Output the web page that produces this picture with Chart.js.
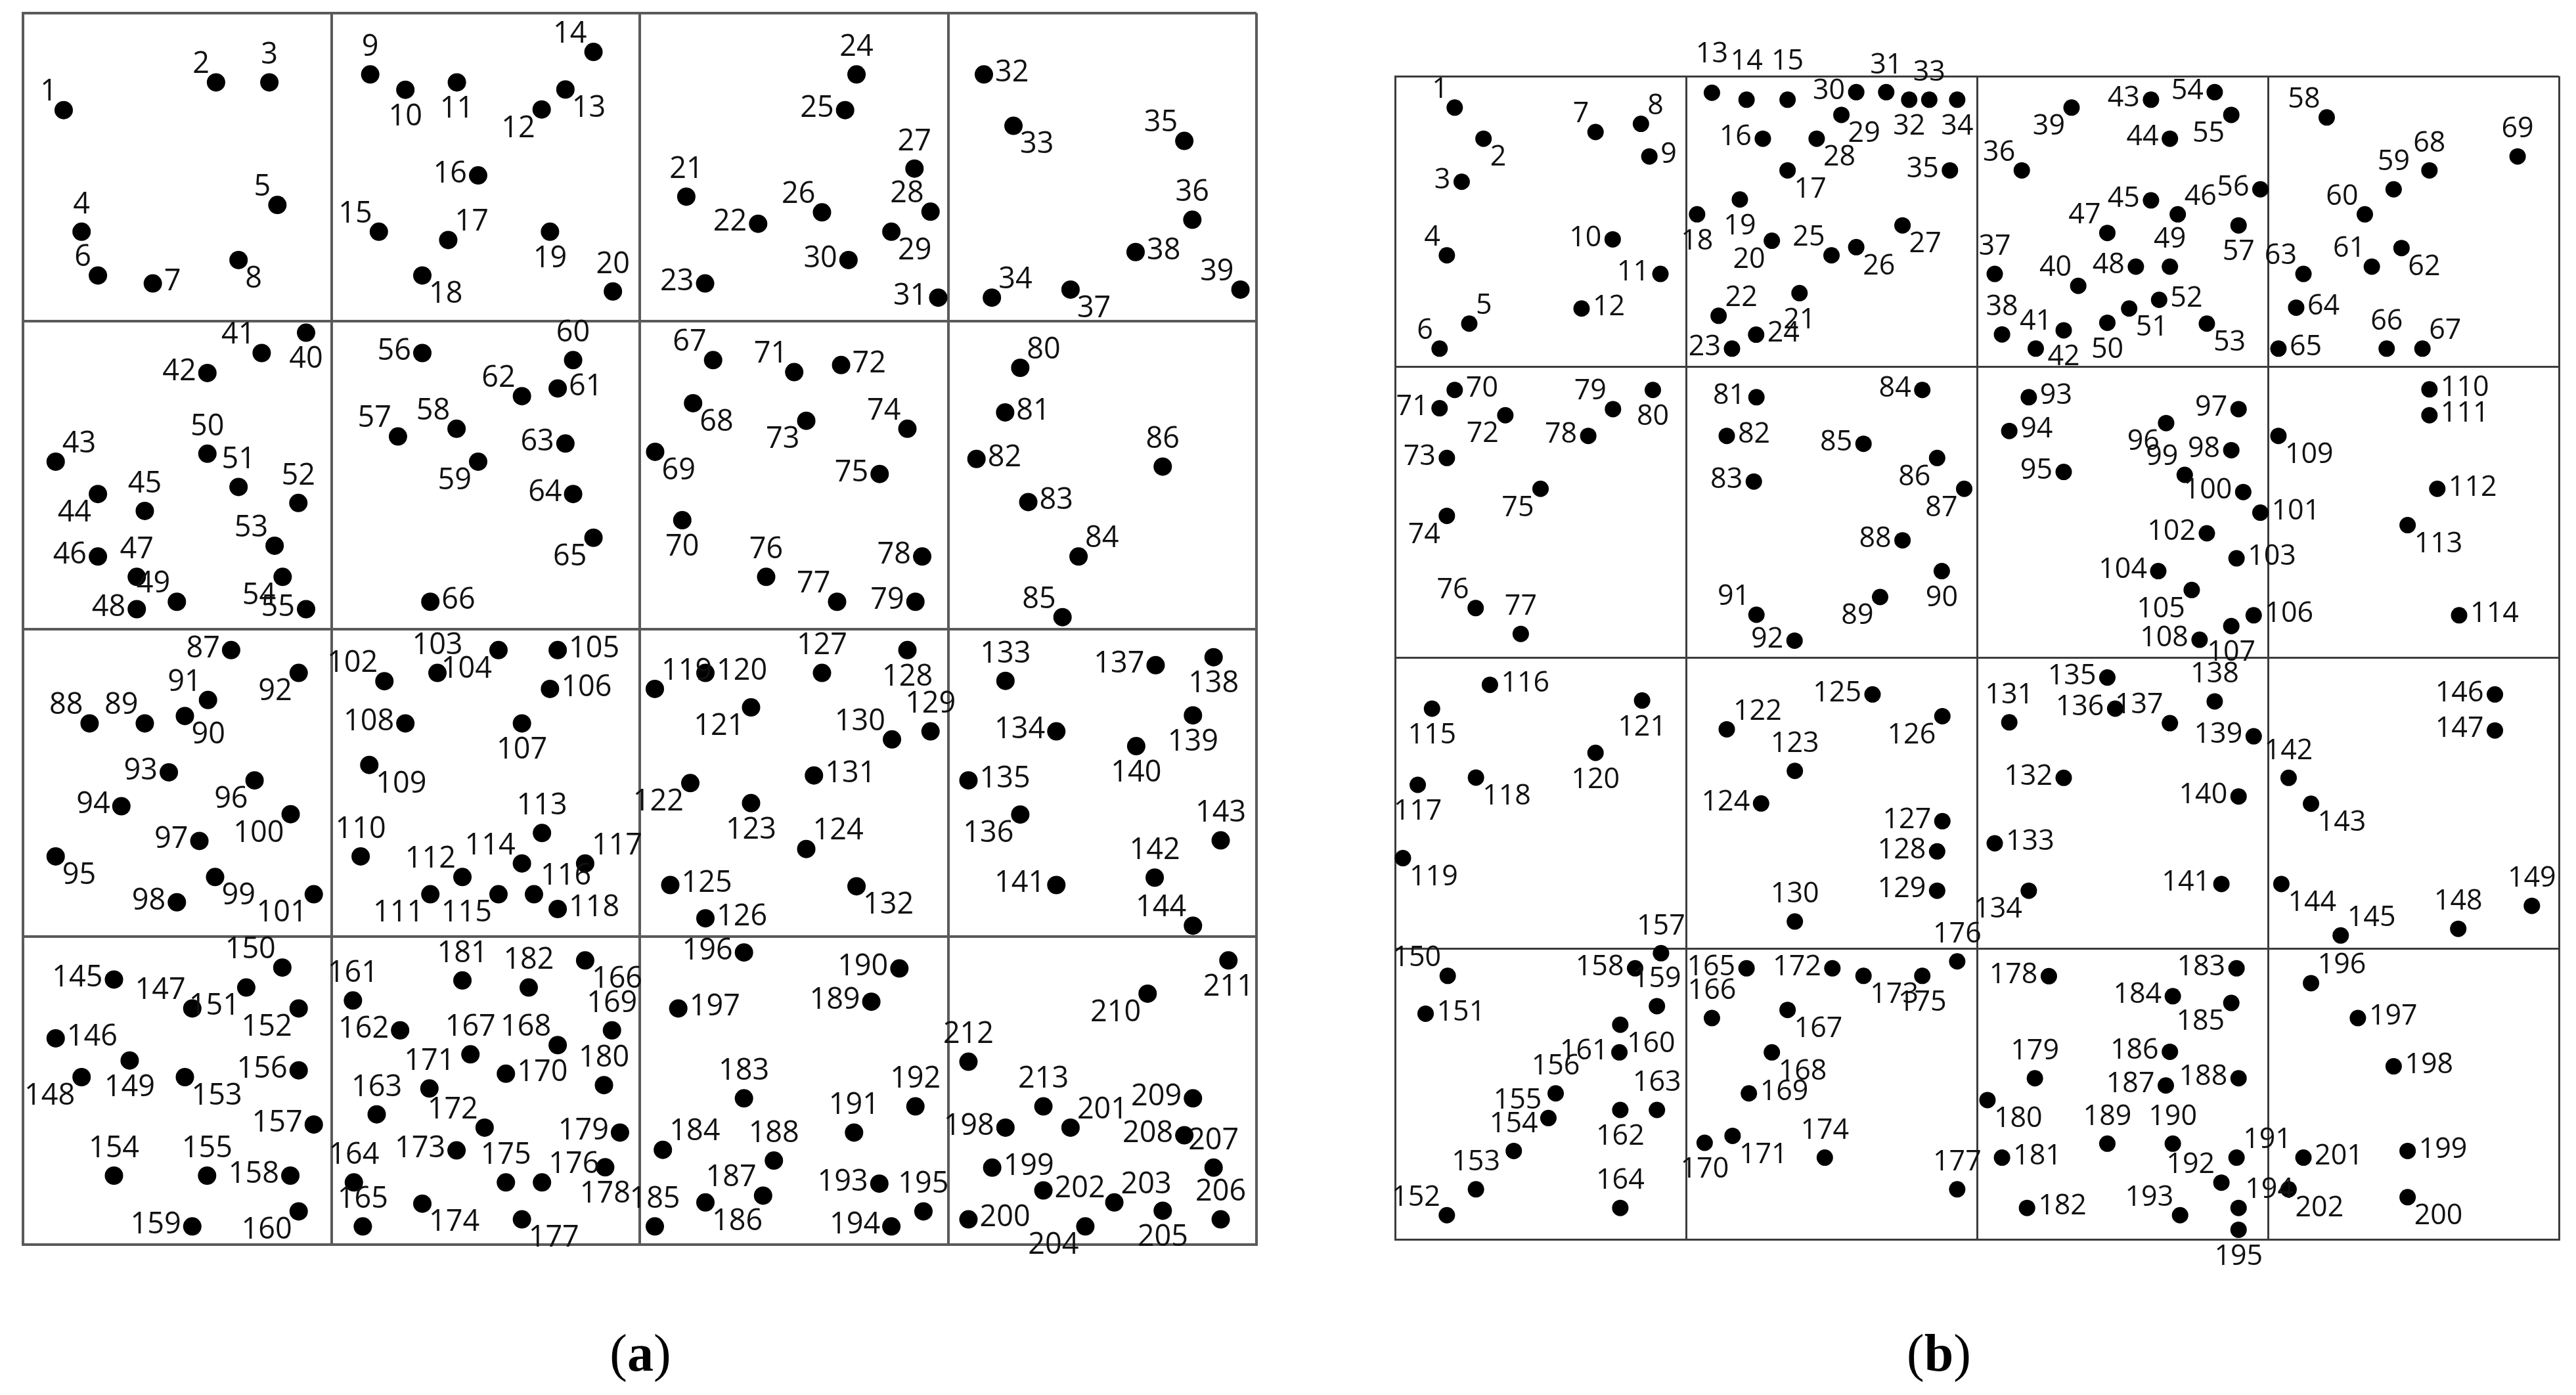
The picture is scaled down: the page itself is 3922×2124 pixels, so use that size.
<!DOCTYPE html>
<html><head><meta charset="utf-8">
<script src="https://cdn.jsdelivr.net/npm/chart.js@4"></script>
<style>
html,body{margin:0;padding:0;background:#fff;width:3922px;height:2124px;overflow:hidden;}
#ca{position:absolute;left:0;top:0;}
#cb{position:absolute;left:2060px;top:0;}
.cap{position:absolute;top:2018px;width:300px;text-align:center;font-family:"Liberation Serif","DejaVu Serif",serif;font-size:80px;line-height:84px;color:#000;}
</style></head><body>
<canvas id="ca" width="1960" height="1990"></canvas>
<canvas id="cb" width="1862" height="1990"></canvas>
<div class="cap" style="left:825px">(<b>a</b>)</div>
<div class="cap" style="left:2802px">(<b>b</b>)</div>
<script>
// Layout grid: 4 x 4 cells, each 100 units
const gridMin = 0, gridMax = 400, gridStep = 100;

// ---- Panel (a): 213 points ----
const aX = [13.2,62.6,79.9,19.0,82.5,24.3,42.1,69.9,112.6,124.0,
140.7,168.2,175.9,185.0,115.4,147.6,137.9,129.5,170.9,191.3,
215.1,238.4,221.2,270.3,266.6,259.1,289.1,294.3,281.6,267.7,
296.8,311.6,321.2,314.2,376.6,379.2,339.7,360.8,394.8,91.8,
77.4,59.8,10.6,24.3,39.5,24.3,36.9,36.9,49.9,59.8,
69.9,89.3,81.6,84.2,91.8,129.5,121.6,140.6,147.6,178.4,
173.4,161.8,175.9,178.4,185.0,132.1,223.8,217.3,205.0,213.8,
250.1,265.3,254.0,286.8,277.8,241.0,264.0,291.6,289.4,323.4,
318.5,309.2,326.0,342.3,337.1,369.6,67.5,21.6,39.5,52.5,
60.0,89.4,47.3,31.9,10.6,75.1,57.2,49.9,62.3,86.8,
94.3,117.2,134.4,154.2,173.4,170.9,161.8,124.0,112.3,109.5,
132.1,142.5,168.3,161.8,154.2,165.7,182.3,173.4,204.9,221.3,
236.1,216.4,236.1,254.0,209.9,221.3,259.1,286.8,294.3,281.8,
256.5,270.3,318.6,335.1,306.6,323.4,367.3,386.1,379.4,361.0,
335.1,367.0,388.4,379.4,29.5,10.6,54.9,19.0,34.6,84.1,
72.4,89.4,52.5,29.5,59.7,89.4,94.3,86.7,54.9,89.4,
107.0,122.3,114.7,107.3,110.2,182.3,145.1,173.4,191.0,156.6,
131.8,149.7,140.6,129.5,156.6,168.3,161.8,188.8,193.6,188.4,
142.5,164.0,233.8,207.5,204.9,221.3,240.0,243.5,275.1,284.2,
269.5,289.4,277.7,281.6,292.0,233.8,212.5,318.6,314.3,306.6,
339.7,330.9,353.9,344.5,369.6,388.4,386.1,376.6,379.4,364.7,
390.9,306.6,330.9];
const aY = [31.5,22.5,22.5,71.0,62.3,85.2,87.8,80.2,19.9,24.9,
22.5,31.3,24.8,12.6,71.0,52.7,73.7,85.2,71.0,90.4,
59.6,68.4,87.8,19.9,31.5,64.7,50.5,64.5,71.0,80.2,
92.4,19.9,36.6,92.4,41.5,67.1,89.8,77.6,89.8,103.8,
110.4,116.9,145.7,156.2,161.7,176.5,183.1,193.6,191.2,143.1,
153.9,159.1,173.0,183.1,193.6,110.4,137.5,135.0,145.7,112.7,
121.9,124.4,139.8,156.2,170.4,191.2,112.7,126.7,142.5,164.7,
116.6,114.3,132.4,135.0,149.7,183.1,191.2,176.5,191.2,115.2,
129.7,144.8,158.8,176.5,196.2,147.3,206.9,230.7,230.7,228.3,
223.1,214.3,246.6,257.6,273.9,249.2,268.9,288.8,280.6,260.2,
286.2,217.0,214.3,206.9,206.9,219.5,230.7,230.7,244.2,273.9,
286.2,280.6,266.3,276.2,286.2,286.2,276.2,291.0,219.5,214.3,
225.5,250.1,256.6,271.5,283.2,294.0,214.3,206.9,233.3,235.9,
247.6,283.6,216.9,233.3,249.2,260.3,211.8,209.2,228.1,238.1,
283.2,280.8,268.7,296.4,313.9,333.0,323.3,345.6,340.2,310.0,
316.5,323.3,345.6,377.6,377.6,343.4,361.0,377.6,394.1,389.2,
320.7,330.4,357.7,379.8,394.1,307.7,338.2,335.2,330.4,344.5,
349.3,362.0,369.4,386.7,379.8,379.8,391.8,374.9,363.6,348.2,
314.2,316.5,352.5,369.2,394.1,386.3,384.1,372.7,321.1,310.3,
363.6,355.1,380.2,394.1,389.2,305.1,323.3,362.0,375.0,391.8,
362.0,382.4,386.3,394.1,389.0,391.8,375.0,364.5,352.5,318.5,
307.7,340.6,355.1];
const aPos = ['tl','tl','t','t','tl','tl','r','br','t','b',
'b','bl','br','tl','tl','l','tr','br','b','t',
't','l','l','t','l','tl','t','tl','br','l',
'l','r','br','tr','tl','t','br','r','tl','b',
'tl','l','tr','bl','t','l','t','l','tl','t',
't','t','tl','bl','l','l','tl','tl','bl','t',
'r','tl','l','l','bl','r','tl','br','br','b',
'tl','r','bl','tl','l','t','tl','l','l','tr',
'r','r','r','tr','tl','t','l','tl','tl','br',
'tl','bl','l','l','br','bl','l','l','br','bl',
'bl','tl','t','bl','r','r','b','l','br','t',
'bl','tl','t','tl','bl','tr','tr','r','tr','r',
'bl','bl','b','tr','r','r','t','b','t','tl',
'r','br','t','l','r','bl','l','b','b','b',
'l','t','t','tl','l','r','tl','bl','b','tl',
'bl','bl','br','t','t','l','l','l','l','bl',
't','l','t','t','t','br','t','tl','t','r',
't','tl','l','br','t','tr','br','b','l','t',
't','t','t','tr','t','br','tl','t','l','l',
't','t','l','l','t','l','r','l','r','r',
'tr','r','tr','bl','b','t','t','l','l','bl',
'b','t','t'];

// ---- Panel (b): 202 points ----
const bX = [20.5,30.4,22.9,17.8,25.5,15.3,68.9,84.5,87.4,74.8,
91.2,64.1,108.9,120.8,134.9,126.4,134.9,103.8,118.5,129.5,
139.0,111.2,115.8,124.1,150.0,158.5,174.4,144.9,153.4,158.5,
168.8,176.7,183.6,193.2,190.7,215.4,206.1,208.6,232.5,234.8,
220.2,229.8,259.8,266.3,259.8,269.0,244.8,254.6,266.3,244.8,
252.3,262.6,279.0,281.7,287.4,297.4,289.9,320.2,343.2,333.3,
335.7,345.9,312.2,309.7,303.6,340.8,353.1,355.5,385.8,20.5,
15.3,37.9,17.8,17.8,50.0,27.7,43.2,66.4,74.9,88.6,
124.2,114.0,123.3,181.2,161.0,186.3,195.6,174.4,166.7,187.9,
124.2,137.3,217.8,211.1,229.8,265.0,289.9,287.4,271.4,291.5,
297.4,279.0,289.2,262.3,273.8,295.1,287.4,276.5,303.6,355.5,
355.5,358.2,348.0,365.7,12.7,32.6,7.8,27.8,2.7,68.9,
84.9,114.0,137.4,125.8,164.1,188.1,188.1,186.3,186.3,137.4,
211.1,229.8,206.1,217.8,244.8,247.5,266.3,281.7,295.1,289.9,
284.0,307.1,314.8,304.6,325.0,378.0,378.0,365.4,390.7,18.1,
10.5,17.8,27.8,40.8,52.7,55.2,91.4,82.5,90.0,77.4,
77.1,77.4,90.0,77.4,120.8,108.9,134.9,129.5,121.6,106.4,
116.0,150.3,161.0,147.7,181.2,193.2,193.2,224.7,219.9,203.6,
208.6,217.2,289.2,267.3,287.4,266.3,264.9,289.9,244.8,267.3,
289.2,284.0,269.8,289.9,289.9,314.8,330.9,343.2,348.0,348.0,
312.2,307.1];
const bY = [10.8,21.5,36.3,61.6,85.1,93.7,19.2,16.4,27.6,56.1,
68.0,79.9,5.7,8.1,8.1,21.5,32.4,47.5,42.4,56.6,
74.6,82.4,93.7,88.9,61.6,58.8,51.3,21.5,13.3,5.5,
5.5,8.1,8.1,8.1,32.4,32.4,68.0,88.8,10.8,72.1,
93.7,87.4,8.1,21.5,42.7,47.5,53.9,65.5,65.5,84.8,
79.9,76.9,85.1,5.5,13.3,38.9,51.3,14.2,38.9,47.5,
65.5,59.1,68.0,79.6,93.7,93.7,93.7,32.4,27.6,107.9,
114.2,116.6,131.3,151.2,141.9,182.9,191.8,123.7,114.5,107.9,
110.4,123.7,139.4,107.9,126.4,131.3,141.9,159.6,179.1,170.2,
185.2,194.1,110.4,122.0,136.1,119.3,114.5,128.6,137.1,143.0,
150.1,157.2,165.8,170.2,176.7,185.4,189.1,193.8,123.7,107.7,
116.6,141.9,154.4,185.4,217.5,209.3,243.7,241.2,268.9,232.7,
214.7,224.6,238.9,250.1,212.6,220.1,256.2,266.6,280.1,290.7,
222.2,241.3,263.8,280.1,206.8,217.5,222.5,215.0,227.0,247.7,
277.8,241.3,250.2,277.8,295.5,212.6,225.0,293.2,285.3,309.4,
322.4,391.7,382.8,369.6,358.3,349.8,301.6,306.8,319.8,326.2,
335.7,355.5,355.5,389.2,306.8,323.9,321.1,335.7,349.8,366.8,
364.4,306.8,309.4,371.9,309.4,304.4,382.8,309.5,344.6,352.1,
371.9,389.2,306.8,316.4,318.7,335.5,347.1,344.6,367.1,367.1,
371.9,380.5,391.7,389.2,396.7,311.9,323.9,340.5,369.6,385.5,
371.9,382.8];
const bPos = ['tl','br','l','tl','tr','tl','tl','tr','r','l',
'l','r','T','T','T','l','br','b','b','bl',
'b','tr','l','r','tl','br','br','br','br','l',
't','b','t','b','l','tl','t','t','bl','tl',
't','b','l','l','l','tr','tl','l','t','b',
'br','r','br','l','bl','l','b','tl','t','tl',
'tl','br','tl','r','r','t','tr','t','t','r',
'l','bl','l','bl','bl','tl','t','l','tl','b',
'l','r','l','l','l','bl','bl','l','bl','b',
'tl','l','r','r','l','bl','l','l','tl','l',
'r','l','r','l','bl','r','b','l','br','r',
'r','r','br','r','b','r','b','br','br','b',
'b','tr','t','l','l','bl','l','l','l','t',
't','l','r','bl','l','l','tl','t','l','l',
'l','t','br','br','tr','l','l','t','t','tl',
'r','tl','t','t','tl','t','t','l','t','br',
'l','b','t','t','l','t','br','br','r','b',
'br','l','br','t','b','t','t','l','t','br',
'r','r','l','l','bl','l','l','l','t','t',
'tr','tl','tl','tr','b','tr','r','r','r','br',
'r','br'];

// label offsets by position code: [align, dx, dy]
const OFF = {
  r:['left',17,-2], l:['right',-17,-2], t:['center',0,-41], T:['center',0,-58],
  b:['center',0,41], tl:['right',-10,-27], tr:['left',10,-27],
  bl:['right',-10,29], br:['left',10,29]
};

function labelPlugin(pos, font){
  return {id:'ptLabels', afterDatasetsDraw(chart){
    const ctx = chart.ctx;
    const meta = chart.getDatasetMeta(0);
    ctx.save();
    ctx.font = font;
    ctx.fillStyle = '#111';
    ctx.textBaseline = 'middle';
    meta.data.forEach((pt, i) => {
      const o = OFF[pos[i]] || OFF.r;
      ctx.textAlign = o[0];
      ctx.fillText(String(i + 1), pt.x + o[1], pt.y + o[2]);
    });
    ctx.restore();
  }};
}

function axis(reverse, color, width){
  return {
    type:'linear', min:gridMin, max:gridMax, reverse:reverse,
    ticks:{display:false, stepSize:gridStep},
    grid:{color:color, lineWidth:width, drawTicks:false},
    border:{display:true, color:color, width:width},
    title:{display:false}
  };
}

function makeChart(id, xs, ys, pos, cfg){
  const pts = xs.map((x, i) => ({x:x, y:ys[i]}));
  return new Chart(document.getElementById(id), {
    type:'scatter',
    data:{datasets:[{data:pts, backgroundColor:'#000', borderWidth:0,
      pointRadius:cfg.r, pointHoverRadius:cfg.r, clip:false}]},
    options:{
      responsive:false, animation:false, devicePixelRatio:1, events:[],
      layout:{padding:cfg.pad},
      plugins:{legend:{display:false}, tooltip:{enabled:false}, title:{display:false}},
      scales:{x:axis(false, cfg.color, cfg.lw), y:axis(true, cfg.color, cfg.lw)}
    },
    plugins:[labelPlugin(pos, cfg.font)]
  });
}

makeChart('ca', aX, aY, aPos, {r:14, pad:{left:35, top:20, right:47, bottom:95},
  color:'#5a5a5a', lw:4, font:'45px "Open Sans", sans-serif'});
makeChart('cb', bX, bY, bPos, {r:12.5, pad:{left:64, top:116, right:26, bottom:103},
  color:'#3c3c3c', lw:3, font:'43px "Open Sans", sans-serif'});
</script>
</body></html>
